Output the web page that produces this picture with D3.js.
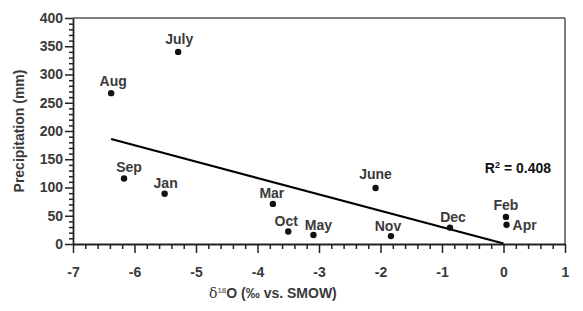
<!DOCTYPE html>
<html>
<head>
<meta charset="utf-8">
<script src="https://cdn.jsdelivr.net/npm/d3@7"></script>
<style>
  body { margin: 0; background: #fff; }
  text { font-family: "Liberation Sans", Arial, sans-serif; }
</style>
</head>
<body>
<script>
// monthly samples: delta 18O vs precipitation
var months = ["Aug", "July", "Sep", "Jan", "Mar", "Oct", "May", "June", "Nov", "Dec", "Feb", "Apr"];
var d18O = [-6.38, -5.29, -6.17, -5.51, -3.75, -3.50, -3.09, -2.08, -1.83, -0.87, 0.04, 0.05];
var precip = [267, 340, 116, 89, 71, 22, 16, 99, 14, 29, 48, 34];

var xTicks = [-7, -6, -5, -4, -3, -2, -1, 0, 1];
var yTicks = [0, 50, 100, 150, 200, 250, 300, 350, 400];

// linear trend shown on the chart
var fitSlope = -29.0;
var fitIntercept = 0.8;
var fitRange = [-6.38, 0.0];
var r2Text = "0.408";

var width = 583, height = 311;
var margin = {top: 18, right: 18, bottom: 67, left: 73};
var innerW = width - margin.left - margin.right;
var innerH = height - margin.top - margin.bottom;

var textColor = "#3a3a3a";

var svg = d3.select("body").append("svg")
    .attr("width", width)
    .attr("height", height);

var g = svg.append("g")
    .attr("transform", `translate(${margin.left}, ${margin.top})`);

var x = d3.scaleLinear().domain([-7, 1]).range([0, innerW]);
var y = d3.scaleLinear().domain([0, 400]).range([innerH, 0]);

// frame top + right
g.append("line")
    .attr("x1", 0).attr("x2", innerW).attr("y1", 0).attr("y2", 0)
    .attr("stroke", "#555").attr("stroke-width", 1.5);
g.append("line")
    .attr("x1", innerW).attr("x2", innerW).attr("y1", 0).attr("y2", innerH)
    .attr("stroke", "#555").attr("stroke-width", 1.5);

// minor ticks
var yMinor = d3.range(0, 401, 10).filter(function(d) { return d % 50 != 0; });
g.append("g")
    .attr("class", "axis axis--y-minor")
    .call(d3.axisLeft(y).tickValues(yMinor).tickSize(4).tickFormat(""))
    .call(function(a) { a.select(".domain").remove(); });

var xMinor = d3.range(-70, 11, 2).map(function(d) { return d / 10; })
    .filter(function(d) { return Math.abs(d - Math.round(d)) > 1e-6; });
g.append("g")
    .attr("transform", `translate(0, ${innerH})`)
    .call(d3.axisBottom(x).tickValues(xMinor).tickSize(5).tickFormat(""))
    .call(function(a) { a.select(".domain").remove(); });

// major axes (plain hyphen for negatives, as in the original)
var fmt = function(d) { return String(d); };

var yAxis = g.append("g")
    .attr("class", "axis axis--y")
    .call(d3.axisLeft(y).tickValues(yTicks).tickFormat(fmt).tickSize(8).tickPadding(2).tickSizeOuter(0));

var xAxis = g.append("g")
    .attr("class", "axis axis--x")
    .attr("transform", `translate(0, ${innerH})`)
    .call(d3.axisBottom(x).tickValues(xTicks).tickFormat(fmt).tickSize(9).tickPadding(14).tickSizeOuter(0));

g.selectAll(".tick line").attr("stroke", "#222").attr("stroke-width", 1.5);
g.selectAll(".domain").attr("stroke", "#222").attr("stroke-width", 1.8);
g.selectAll(".axis text")
    .style("font-size", "14px")
    .style("font-weight", 700)
    .attr("fill", textColor);
yAxis.selectAll("text").attr("x", -10);

// trend line
g.append("line")
    .attr("x1", x(fitRange[0])).attr("y1", y(fitIntercept + fitSlope * fitRange[0]))
    .attr("x2", x(fitRange[1])).attr("y2", y(fitIntercept + fitSlope * fitRange[1]))
    .attr("stroke", "#000").attr("stroke-width", 2.2);

var pts = months.map(function(m, i) { return {name: m, x: d18O[i], y: precip[i]}; });

g.selectAll("circle.pt").data(pts).enter()
    .append("circle")
    .attr("class", "pt")
    .attr("cx", function(d) { return x(d.x); })
    .attr("cy", function(d) { return y(d.y); })
    .attr("r", 3.2)
    .attr("fill", "#111");

// label placement around each point
var labelOffset = {
    Aug: [2, -7], July: [1, -8], Sep: [5, -6], Jan: [1, -6], Mar: [-1, -6], Oct: [-2, -6],
    May: [5, -5], June: [0, -9], Nov: [-3, -5], Dec: [3, -6], Feb: [0, -7], Apr: [6, 5]
};

g.selectAll("text.lbl").data(pts).enter()
    .append("text")
    .attr("class", "lbl")
    .attr("x", function(d) { return x(d.x) + labelOffset[d.name][0]; })
    .attr("y", function(d) { return y(d.y) + labelOffset[d.name][1]; })
    .attr("text-anchor", function(d) { return d.name == "Apr" ? "start" : "middle"; })
    .style("font-size", "14px")
    .style("font-weight", 700)
    .attr("fill", textColor)
    .text(function(d) { return d.name; });

// R squared
var r2 = g.append("text")
    .attr("x", innerW - 14)
    .attr("y", 155)
    .attr("text-anchor", "end")
    .style("font-size", "14px")
    .style("font-weight", 700)
    .attr("fill", "#111");
r2.append("tspan").text("R");
r2.append("tspan").attr("dy", -5).style("font-size", "9px").text("2");
r2.append("tspan").attr("dy", 5).text(" = " + r2Text);

// axis titles
svg.append("text")
    .attr("transform", `translate(24, ${margin.top + innerH / 2}) rotate(-90)`)
    .attr("text-anchor", "middle")
    .style("font-size", "14px")
    .style("font-weight", 700)
    .attr("fill", textColor)
    .text("Precipitation (mm)");

var xt = svg.append("text")
    .attr("x", margin.left + x(-3.75))
    .attr("y", 298)
    .attr("text-anchor", "middle")
    .style("font-size", "14px")
    .attr("fill", textColor);
xt.append("tspan").style("font-family", "'DejaVu Serif', serif").style("font-weight", 400).text("δ");
xt.append("tspan").attr("dy", -5).style("font-size", "8px").text("18");
xt.append("tspan").attr("dy", 5).style("font-weight", 700).text("O (‰ vs. SMOW)");
</script>
</body>
</html>
